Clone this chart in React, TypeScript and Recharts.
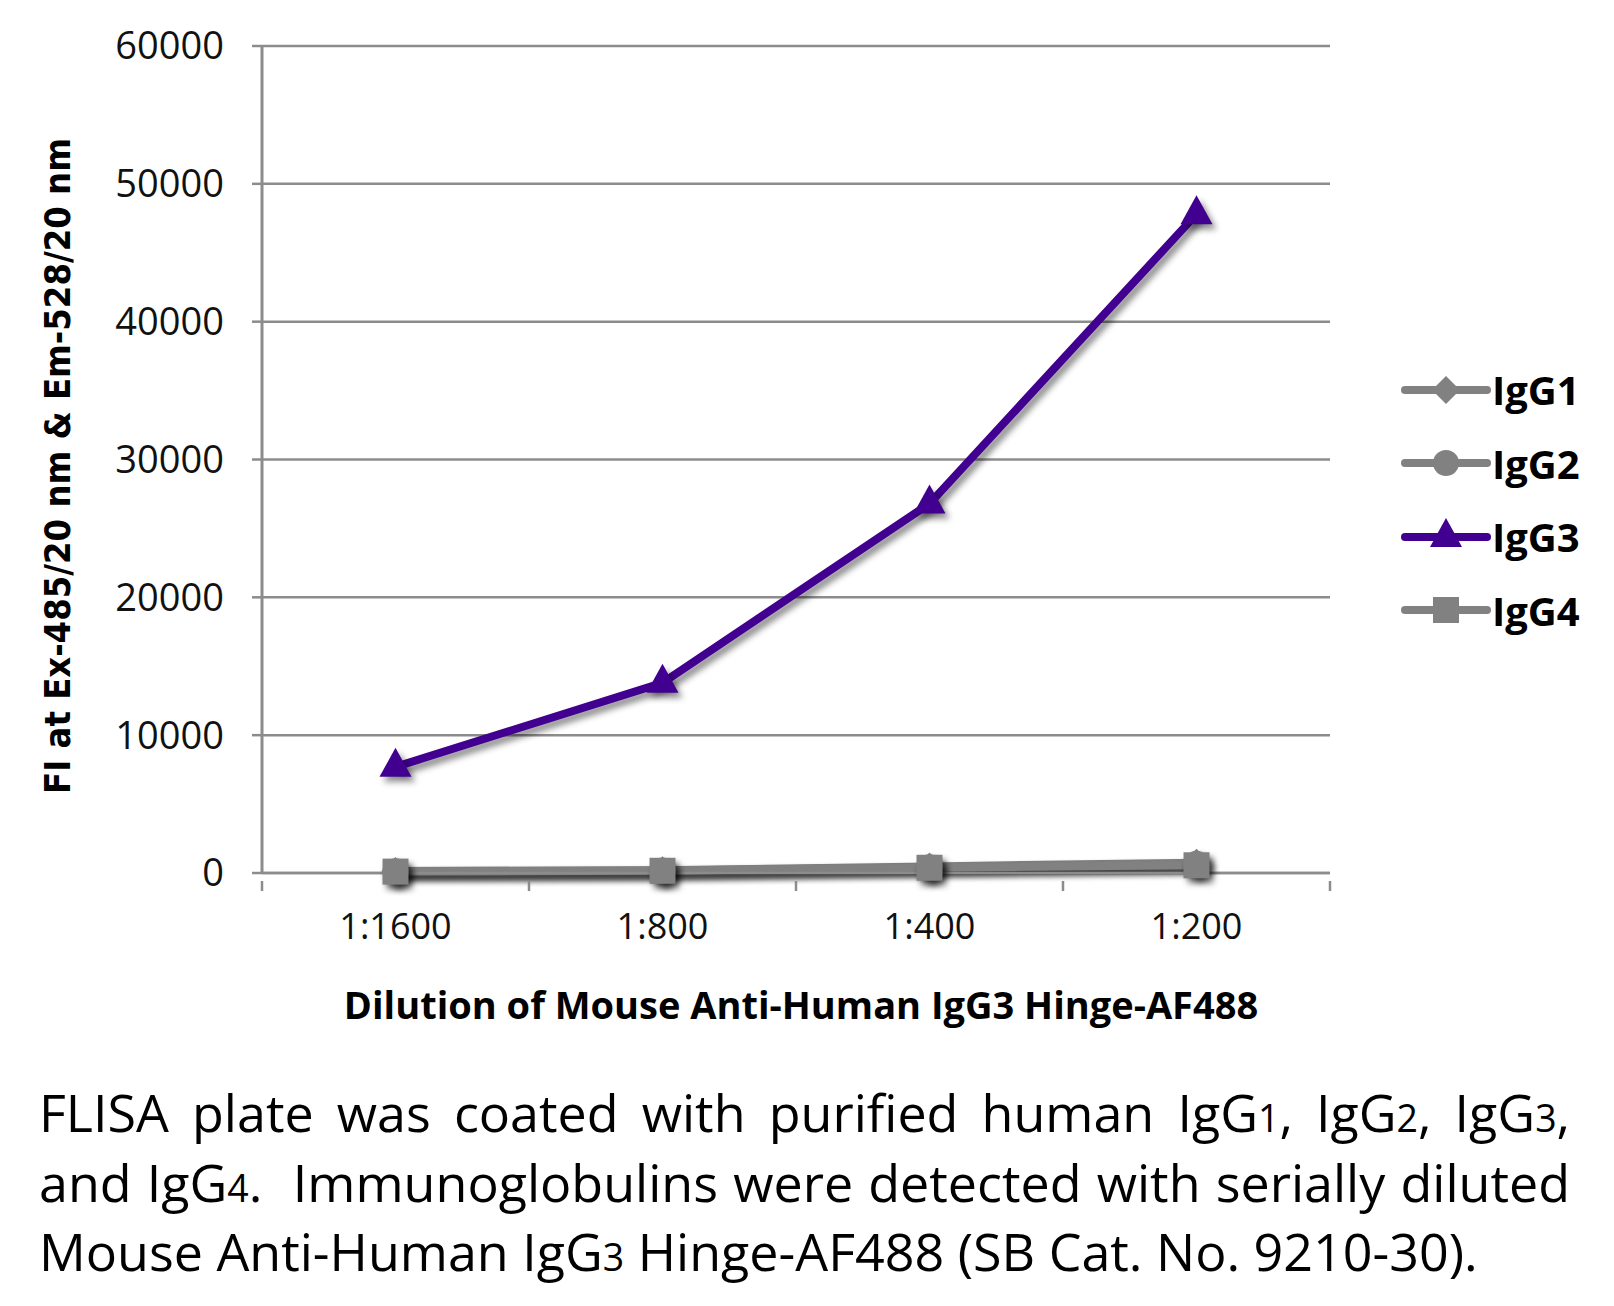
import { CartesianGrid, Legend, Line, LineChart, XAxis, YAxis } from 'recharts';

const categories = ['1:1600', '1:800', '1:400', '1:200'];
const igg1 = [150, 200, 480, 750];
const igg2 = [120, 180, 420, 680];
const igg3 = [7700, 13800, 26800, 47800];
const igg4 = [100, 160, 380, 560];
const yTicks = [0, 10000, 20000, 30000, 40000, 50000, 60000];

const GRAY = '#818181';
const PURPLE = '#41008f';
const GRID = '#8c8c8c';
const SHADOW = 'drop-shadow(4px 5px 3px rgba(0,0,0,0.45))';

const series = [
  { key: 'IgG1', color: GRAY, shape: 'diamond' },
  { key: 'IgG2', color: GRAY, shape: 'circle' },
  { key: 'IgG3', color: PURPLE, shape: 'triangle' },
  { key: 'IgG4', color: GRAY, shape: 'square' },
];

const data = categories.map((label, i) => ({
  pos: i + 0.5,
  label,
  IgG1: igg1[i],
  IgG2: igg2[i],
  IgG3: igg3[i],
  IgG4: igg4[i],
}));

// boundary ticks at integers, labels at band centres
const xTicks = categories.flatMap((_, i) => [i, i + 0.5]).concat(categories.length);

function Marker({ cx, cy, shape, color, shadow = true }: any) {
  if (cx == null || cy == null) return null;
  const style = shadow ? { filter: SHADOW } : undefined;
  if (shape === 'triangle') {
    return <polygon points={`${cx},${cy - 19} ${cx - 16},${cy + 10} ${cx + 16},${cy + 10}`} fill={color} style={style} />;
  }
  if (shape === 'square') {
    return <rect x={cx - 13} y={cy - 13} width={26} height={26} fill={color} style={style} />;
  }
  if (shape === 'circle') {
    return <circle cx={cx} cy={cy} r={13} fill={color} style={style} />;
  }
  return <polygon points={`${cx},${cy - 14} ${cx + 14},${cy} ${cx},${cy + 14} ${cx - 14},${cy}`} fill={color} style={style} />;
}

function XTick({ x, y, payload }: any) {
  const v = payload.value;
  if (Number.isInteger(v)) {
    return <line x1={x} x2={x} y1={y} y2={y + 10} stroke={GRID} strokeWidth={2.5} />;
  }
  return (
    <text x={x} y={y + 58} textAnchor="middle" fontSize={36} fill="#111" fontFamily="'Open Sans', sans-serif">
      {categories[Math.floor(v)]}
    </text>
  );
}

function LegendContent() {
  return (
    <div>
      {series.map((s) => (
        <div key={s.key} style={{ display: 'flex', alignItems: 'center', height: 73.5 }}>
          <svg width={92} height={40}>
            <line x1={4} x2={86} y1={20} y2={20} stroke={s.color} strokeWidth={8} strokeLinecap="round" />
            <Marker cx={45} cy={20} shape={s.shape} color={s.color} shadow={false} />
          </svg>
          <span style={{ fontFamily: "'Open Sans', sans-serif", fontWeight: 700, fontSize: 40, color: '#000', marginLeft: -1 }}>
            {s.key}
          </span>
        </div>
      ))}
    </div>
  );
}

const sub = { fontSize: '0.72em', lineHeight: 1 };
const lineStyle = { textAlign: 'justify' as const, textAlignLast: 'justify' as const, whiteSpace: 'nowrap' as const };

export default function App() {
  return (
    <div style={{ position: 'absolute', left: 0, top: 0, width: 1614, height: 1306, background: '#fff' }}>
      <style>{`.shadow-series .recharts-line-curve { filter: ${SHADOW}; }`}</style>
      <LineChart width={1614} height={1040} data={data} margin={{ top: 46, right: 71, bottom: 0, left: 0 }}>
        <CartesianGrid vertical={false} stroke={GRID} strokeWidth={2.5} />
        <XAxis
          type="number"
          dataKey="pos"
          domain={[0, categories.length]}
          ticks={xTicks}
          interval={0}
          height={167}
          tickLine={false}
          axisLine={{ stroke: GRID, strokeWidth: 2.5 }}
          tick={<XTick />}
          label={({ viewBox }: any) => (
            <text
              x={viewBox.x + viewBox.width / 2 + 5}
              y={viewBox.y + 146}
              textAnchor="middle"
              fontSize={38}
              fontWeight={700}
              fill="#000"
              fontFamily="'Open Sans', sans-serif"
            >
              Dilution of Mouse Anti-Human IgG3 Hinge-AF488
            </text>
          )}
        />
        <YAxis
          domain={[0, 60000]}
          ticks={yTicks}
          interval={0}
          width={262}
          tickSize={10}
          tickMargin={28}
          tickLine={{ stroke: GRID, strokeWidth: 2.5 }}
          axisLine={{ stroke: GRID, strokeWidth: 3 }}
          tick={{ fontSize: 38, fill: '#111', fontFamily: "'Open Sans', sans-serif" }}
          label={() => (
            <text
              x={57}
              y={466}
              transform="rotate(-90 57 466)"
              textAnchor="middle"
              dominantBaseline="central"
              fontSize={36}
              fontWeight={700}
              fill="#000"
              fontFamily="'Liberation Sans Narrow', 'DejaVu Sans Condensed', sans-serif"
            >
              FI at Ex-485/20 nm &amp; Em-528/20 nm
            </text>
          )}
        />
        <Legend
          layout="vertical"
          align="right"
          verticalAlign="middle"
          content={<LegendContent />}
          wrapperStyle={{ position: 'absolute', left: 1401, top: 353, width: 213 }}
        />
        {series.map((s) => (
          <Line
            key={s.key}
            className="shadow-series"
            dataKey={s.key}
            stroke={s.color}
            strokeWidth={8}
            isAnimationActive={false}
            dot={(p: any) => <Marker key={`${s.key}-${p.index}`} cx={p.cx} cy={p.cy} shape={s.shape} color={s.color} />}
            activeDot={false}
          />
        ))}
      </LineChart>
      <div
        style={{
          position: 'absolute',
          left: 39,
          top: 1077,
          width: 1531,
          fontFamily: "'Open Sans', sans-serif",
          fontSize: 52,
          lineHeight: '69.5px',
          color: '#000',
        }}
      >
        <div style={lineStyle}>
          FLISA plate was coated with purified human IgG<span style={sub}>1</span>, IgG<span style={sub}>2</span>, IgG<span style={sub}>3</span>,
        </div>
        <div style={lineStyle}>
          and IgG<span style={sub}>4</span>.&nbsp; Immunoglobulins were detected with serially diluted
        </div>
        <div style={{ whiteSpace: 'nowrap' }}>
          Mouse Anti-Human IgG<span style={sub}>3</span> Hinge-AF488 (SB Cat. No. 9210-30).
        </div>
      </div>
    </div>
  );
}
